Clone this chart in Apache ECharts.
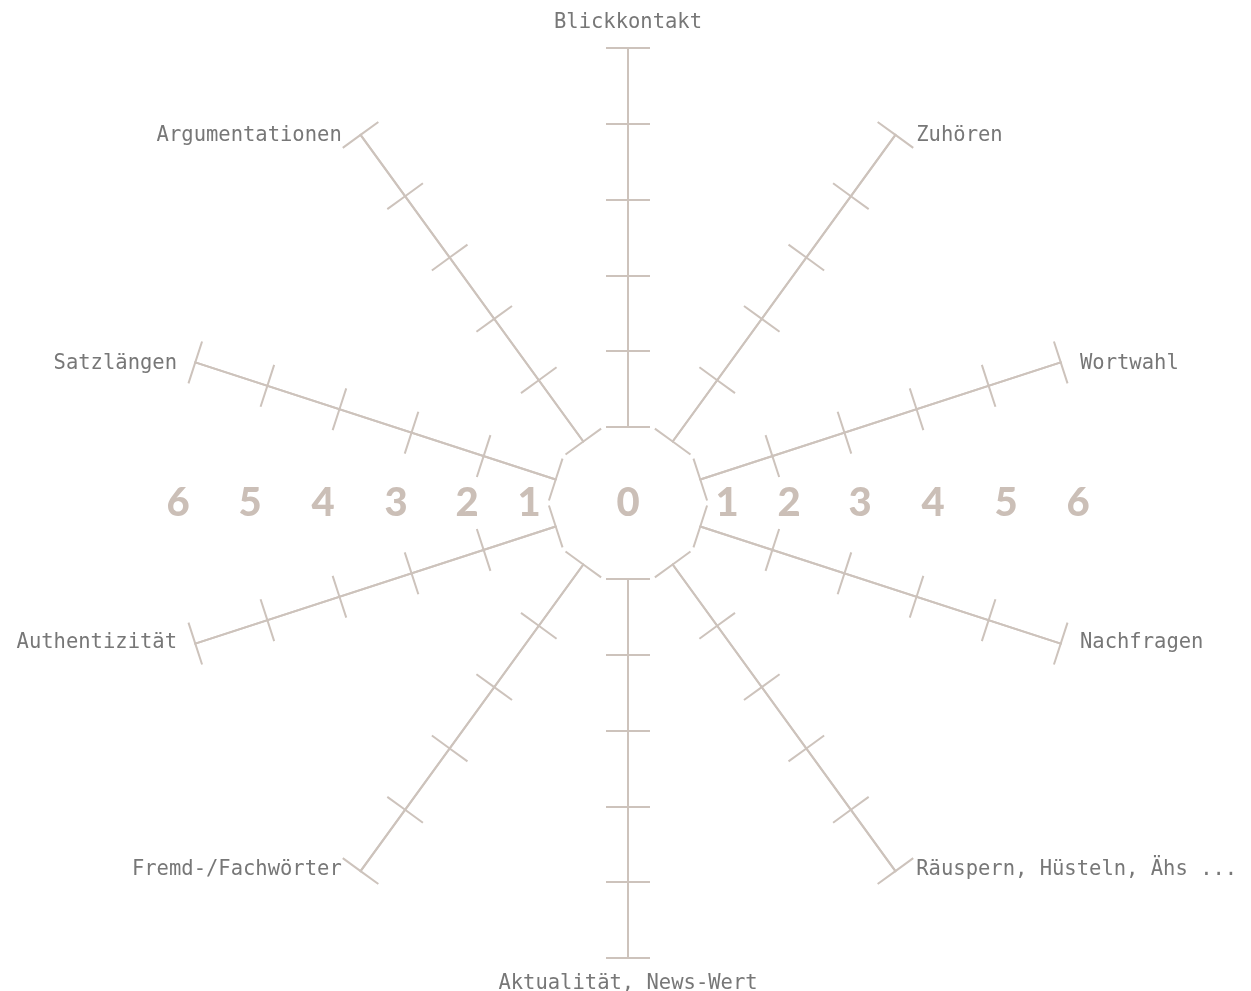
<!DOCTYPE html>
<html>
<head>
<meta charset="utf-8">
<script src="https://cdn.jsdelivr.net/npm/echarts@6/dist/echarts.min.js"></script>
<style>html,body{margin:0;padding:0;background:#fff;}#main{width:1251px;height:991px;}</style>
</head>
<body>
<div id="main"></div>
<script>
// Axes, listed counter-clockwise from the top
const indicators = ['Blickkontakt', 'Argumentationen', 'Satzlängen', 'Authentizität', 'Fremd-/Fachwörter',
  'Aktualität, News-Wert', 'Räuspern, Hüsteln, Ähs ...', 'Nachfragen', 'Wortwahl', 'Zuhören'];
const scaleMax = 5;
const scaleSteps = 5;
// Scale numbers shown in the middle row
const scaleLabels = ['0', '1', '2', '3', '4', '5', '6'];

const AXIS_COLOR = '#cdc3bc';
const NUM_COLOR = '#cbbfb7';
const NAME_COLOR = '#777777';
const CX = 628, CY = 503, R_IN = 76, R_OUT = 455;
const LABEL_OFFSETS = [0, 99, 161, 232, 305, 378, 450];
// name fine-placement (padding: top, right, bottom, left), by axis index
const NAME_PAD = [
  [0, 0, 0, 0], [26, 10, 0, 0], [12, 4, 0, 0], [0, 4, 12, 0], [0, 10, 28, 0],
  [0, 0, 0, 0], [0, 0, 28, 12], [0, 0, 12, 5], [12, 0, 0, 5], [26, 0, 0, 12]
];

const chart = echarts.init(document.getElementById('main'));

const rich = {};
NAME_PAD.forEach((p, i) => {
  rich['n' + i] = { padding: p, color: NAME_COLOR, fontFamily: 'DejaVu Sans Mono', fontSize: 20.5 };
});

function radarCfg(tickLen, showName) {
  return {
    center: [CX, CY],
    radius: [R_IN, R_OUT],
    startAngle: 90,
    shape: 'polygon',
    splitNumber: scaleSteps,
    indicator: indicators.map(n => ({ name: n, min: 0, max: scaleMax })),
    axisName: {
      show: showName,
      color: NAME_COLOR,
      fontFamily: 'DejaVu Sans Mono',
      fontSize: 20.5,
      formatter: function (name) {
        const i = indicators.indexOf(name);
        return '{n' + i + '|' + name + '}';
      },
      rich: rich
    },
    nameGap: 15,
    axisLine: { show: true, lineStyle: { color: AXIS_COLOR, width: 2 } },
    axisTick: { show: true, length: tickLen, lineStyle: { color: AXIS_COLOR, width: 2 } },
    axisLabel: { show: false },
    splitLine: { show: false },
    splitArea: { show: false }
  };
}

const graphics = [];
scaleLabels.forEach((t, i) => {
  const sides = i === 0 ? [0] : [-1, 1];
  sides.forEach(s => {
    graphics.push({
      type: 'text',
      x: CX + s * LABEL_OFFSETS[i],
      y: CY,
      style: {
        text: t,
        fill: NUM_COLOR,
        font: '900 40px Lato',
        textAlign: 'center',
        textVerticalAlign: 'middle'
      }
    });
  });
});

chart.setOption({
  animation: false,
  backgroundColor: '#fff',
  radar: [radarCfg(22, true), radarCfg(-22, false)],
  graphic: graphics,
  series: []
});
</script>
</body>
</html>
